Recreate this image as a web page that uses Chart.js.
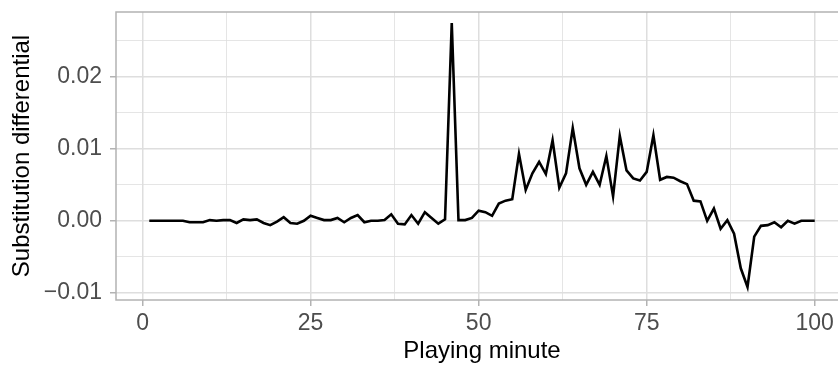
<!DOCTYPE html>
<html>
<head>
<meta charset="utf-8">
<script src="https://cdn.jsdelivr.net/npm/chart.js@4/dist/chart.umd.min.js"></script>
<style>
  html, body { margin: 0; padding: 0; background: #fff; overflow: hidden; }
  #clip { width: 838px; height: 366px; overflow: hidden; position: relative; }
  #wrap { width: 852px; height: 366px; position: relative; }
</style>
</head>
<body>
<div id="clip"><div id="wrap"><canvas id="c"></canvas></div></div>
<script>
const minutes = [1,2,3,4,5,6,7,8,9,10,11,12,13,14,15,16,17,18,19,20,
  21,22,23,24,25,26,27,28,29,30,31,32,33,34,35,36,37,38,39,40,
  41,42,43,44,45,46,47,48,49,50,51,52,53,54,55,56,57,58,59,60,
  61,62,63,64,65,66,67,68,69,70,71,72,73,74,75,76,77,78,79,80,
  81,82,83,84,85,86,87,88,89,90,91,92,93,94,95,96,97,98,99,100];
const differential = [
  0, 0, 0, 0, 0, 0, -0.0002, -0.0002, -0.0002, 0.0001,
  0.0000, 0.0001, 0.0001, -0.0003, 0.0002, 0.0001, 0.0002, -0.0003, -0.0006, -0.0001,
  0.0005, -0.0003, -0.0004, 0.0000, 0.0007, 0.0004, 0.0001, 0.0001, 0.0004, -0.0002,
  0.0004, 0.0008, -0.0002, 0.0000, 0.0000, 0.0001, 0.0009, -0.0004, -0.0005, 0.0008,
  -0.0004, 0.0012, 0.0004, -0.0004, 0.0002, 0.0275, 0.0001, 0.0001, 0.0004, 0.0014,
  0.0012, 0.0007, 0.0024, 0.0028, 0.0030, 0.0093, 0.0043, 0.0066, 0.0082, 0.0065,
  0.0112, 0.0046, 0.0066, 0.0129, 0.0073, 0.0050, 0.0068, 0.0050, 0.0090, 0.0034,
  0.0118, 0.0070, 0.0059, 0.0056, 0.0068, 0.0119, 0.0057, 0.0061, 0.0060, 0.0055,
  0.0051, 0.0028, 0.0027, 0.0000, 0.0017, -0.0011, 0.0001, -0.0018, -0.0066, -0.0092,
  -0.0022, -0.0007, -0.0006, -0.0002, -0.0009, 0.0000, -0.0004, 0.0000, 0.0000, 0.0000
];
const xMajorTicks = [0, 25, 50, 75, 100];
const xMinorTicks = [12.5, 37.5, 62.5, 87.5];
const yMajorTicks = [-0.01, 0, 0.01, 0.02];
const yMinorTicks = [-0.005, 0.005, 0.015, 0.025];
const yTickLabels = ['\u22120.01', '0.00', '0.01', '0.02'];
const xTitle = 'Playing minute';
const yTitle = 'Substitution differential';

const FONT = "'Liberation Sans', Arial, sans-serif";
const GRID = '#dedede';
const AXIS = '#b3b3b3';

function isMajor(list, v) { return list.some(t => Math.abs(t - v) < 1e-9); }

const borderPlugin = {
  id: 'panelBorder',
  afterDraw(chart) {
    const a = chart.chartArea, ctx = chart.ctx;
    ctx.save();
    ctx.strokeStyle = AXIS;
    ctx.lineWidth = 1.5;
    ctx.strokeRect(a.left, a.top, a.right - a.left, a.bottom - a.top);
    ctx.restore();
  }
};

new Chart(document.getElementById('c'), {
  type: 'line',
  data: {
    datasets: [{
      data: minutes.map((m, i) => ({ x: m, y: differential[i] })),
      borderColor: '#000',
      borderWidth: 2.6,
      pointRadius: 0,
      tension: 0,
      fill: false
    }]
  },
  options: {
    responsive: true,
    maintainAspectRatio: false,
    animation: false,
    layout: { padding: { top: 12, right: 4, left: 0, bottom: 0 } },
    plugins: { legend: { display: false }, tooltip: { enabled: false } },
    scales: {
      x: {
        type: 'linear',
        min: -3.95,
        max: 104.95,
        afterBuildTicks(s) {
          s.ticks = xMajorTicks.concat(xMinorTicks).sort((a, b) => a - b).map(v => ({ value: v }));
        },
        afterFit(s) { s.height = 66; s.paddingLeft = 0; s.paddingRight = 0; s.paddingTop = 0; s.paddingBottom = 0; },
        border: { display: false },
        grid: {
          color: c => GRID,
          lineWidth: c => (c.tick && isMajor(xMajorTicks, c.tick.value)) ? 1.5 : 0.8,
          tickColor: c => (c.tick && isMajor(xMajorTicks, c.tick.value)) ? AXIS : 'rgba(0,0,0,0)',
          tickLength: 6,
          tickWidth: 1.5
        },
        ticks: {
          autoSkip: false,
          maxRotation: 0,
          padding: 4,
          color: '#4d4d4d',
          font: { family: FONT, size: 23 },
          callback: v => isMajor(xMajorTicks, v) ? String(v) : ''
        },
        title: {
          display: true,
          text: xTitle,
          color: '#000',
          font: { family: FONT, size: 24 },
          padding: { top: 0, bottom: 0 }
        }
      },
      y: {
        type: 'linear',
        min: -0.01101,
        max: 0.02903,
        afterBuildTicks(s) {
          s.ticks = yMajorTicks.concat(yMinorTicks).sort((a, b) => a - b).map(v => ({ value: v }));
        },
        afterFit(s) { s.width = 116; s.paddingLeft = 0; s.paddingRight = 0; s.paddingTop = 0; s.paddingBottom = 0; },
        border: { display: false },
        grid: {
          color: c => GRID,
          lineWidth: c => (c.tick && isMajor(yMajorTicks, c.tick.value)) ? 1.5 : 0.8,
          tickColor: c => (c.tick && isMajor(yMajorTicks, c.tick.value)) ? AXIS : 'rgba(0,0,0,0)',
          tickLength: 6,
          tickWidth: 1.5
        },
        ticks: {
          autoSkip: false,
          padding: 8,
          color: '#4d4d4d',
          font: { family: FONT, size: 23 },
          callback: v => {
            const i = yMajorTicks.findIndex(t => Math.abs(t - v) < 1e-9);
            return i >= 0 ? yTickLabels[i] : '';
          }
        },
        title: {
          display: true,
          text: yTitle,
          color: '#000',
          font: { family: FONT, size: 24 },
          padding: { top: 8, bottom: 0 }
        }
      }
    }
  },
  plugins: [borderPlugin]
});
</script>
</body>
</html>
